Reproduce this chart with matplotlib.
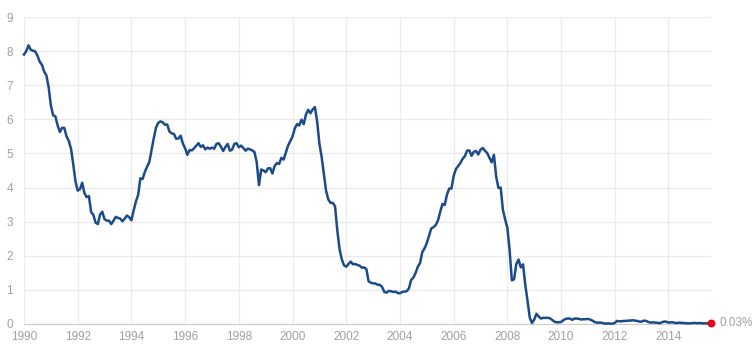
import numpy as np
import matplotlib
matplotlib.use("Agg")
import matplotlib.pyplot as plt

# 3-month treasury yield, monthly, Jan 1990 - Aug 2015
start_year = 1990
rates = [
    # 1990
    7.90, 8.00, 8.17, 8.04, 8.01, 7.99, 7.87, 7.69, 7.60, 7.40, 7.29, 6.95,
    # 1991
    6.41, 6.12, 6.09, 5.83, 5.63, 5.75, 5.75, 5.50, 5.37, 5.14, 4.69, 4.18,
    # 1992
    3.91, 3.95, 4.14, 3.84, 3.72, 3.75, 3.28, 3.20, 2.97, 2.93, 3.21, 3.29,
    # 1993
    3.07, 3.03, 3.03, 2.93, 3.03, 3.14, 3.11, 3.09, 3.01, 3.09, 3.18, 3.13,
    # 1994
    3.04, 3.33, 3.59, 3.78, 4.27, 4.25, 4.46, 4.61, 4.75, 5.10, 5.45, 5.76,
    # 1995
    5.90, 5.94, 5.91, 5.84, 5.85, 5.64, 5.59, 5.57, 5.43, 5.44, 5.52, 5.29,
    # 1996
    5.15, 4.96, 5.10, 5.09, 5.15, 5.23, 5.30, 5.19, 5.24, 5.12, 5.17, 5.14,
    # 1997
    5.17, 5.14, 5.28, 5.30, 5.20, 5.07, 5.19, 5.28, 5.08, 5.11, 5.28, 5.30,
    # 1998
    5.18, 5.23, 5.16, 5.08, 5.14, 5.12, 5.09, 5.04, 4.74, 4.07, 4.53, 4.50,
    # 1999
    4.45, 4.56, 4.57, 4.41, 4.63, 4.72, 4.69, 4.87, 4.82, 5.02, 5.23, 5.36,
    # 2000
    5.50, 5.73, 5.86, 5.82, 5.99, 5.86, 6.14, 6.28, 6.18, 6.29, 6.36, 5.94,
    # 2001
    5.29, 4.90, 4.40, 3.90, 3.65, 3.55, 3.55, 3.45, 2.75, 2.20, 1.90, 1.72,
    # 2002
    1.68, 1.76, 1.83, 1.75, 1.76, 1.73, 1.71, 1.65, 1.66, 1.61, 1.25, 1.21,
    # 2003
    1.19, 1.19, 1.15, 1.15, 1.09, 0.94, 0.92, 0.97, 0.96, 0.94, 0.95, 0.91,
    # 2004
    0.90, 0.94, 0.95, 0.96, 1.04, 1.29, 1.36, 1.50, 1.68, 1.79, 2.11, 2.22,
    # 2005
    2.37, 2.58, 2.80, 2.84, 2.90, 3.04, 3.29, 3.52, 3.49, 3.79, 3.97, 3.97,
    # 2006
    4.34, 4.54, 4.63, 4.72, 4.84, 4.92, 5.08, 5.09, 4.93, 5.05, 5.07, 4.97,
    # 2007
    5.11, 5.16, 5.08, 5.01, 4.87, 4.74, 4.96, 4.32, 3.99, 4.00, 3.35, 3.07,
    # 2008
    2.82, 2.17, 1.28, 1.31, 1.76, 1.89, 1.66, 1.75, 1.15, 0.69, 0.19, 0.03,
    # 2009
    0.13, 0.30, 0.22, 0.16, 0.18, 0.18, 0.18, 0.17, 0.12, 0.07, 0.05, 0.05,
    # 2010
    0.06, 0.11, 0.15, 0.16, 0.16, 0.12, 0.16, 0.16, 0.15, 0.13, 0.14, 0.14,
    # 2011
    0.15, 0.13, 0.10, 0.06, 0.04, 0.04, 0.04, 0.02, 0.01, 0.02, 0.01, 0.01,
    # 2012
    0.03, 0.09, 0.08, 0.08, 0.09, 0.09, 0.10, 0.10, 0.11, 0.10, 0.09, 0.07,
    # 2013
    0.07, 0.10, 0.09, 0.06, 0.04, 0.05, 0.04, 0.04, 0.02, 0.05, 0.07, 0.07,
    # 2014
    0.04, 0.05, 0.05, 0.03, 0.03, 0.04, 0.03, 0.03, 0.02, 0.02, 0.02, 0.03,
    # 2015
    0.03, 0.02, 0.03, 0.02, 0.02, 0.02, 0.03, 0.03,
]
x_ticks = list(range(1990, 2015, 2))
y_ticks = list(range(0, 10))

years = start_year + np.arange(len(rates)) / 12.0
rates = np.array(rates)

plt.rcParams["font.family"] = ["Liberation Sans", "DejaVu Sans"]

fig = plt.figure(figsize=(7.54, 3.54), dpi=100)
ax = fig.add_axes([24 / 754, 30 / 354, 687 / 754, 307 / 354])

ax.plot(years, rates, color="#1b4b8b", linewidth=1.8, solid_joinstyle="round",
        clip_on=False, zorder=3)
ax.scatter([years[-1]], [rates[-1]], s=22, color="#e8001c", zorder=4, clip_on=False)
ax.annotate(f"{rates[-1]:.2f}%", (years[-1], rates[-1]), xytext=(6, 0),
            textcoords="offset points", va="center", ha="left",
            fontsize=8.5, color="#a0a0a0", annotation_clip=False)

ax.set_xlim(years[0], years[-1])
ax.set_ylim(0, 9)
ax.set_xticks(x_ticks)
ax.set_yticks(y_ticks)
ax.grid(True, color="#ebebeb", linewidth=0.9)
ax.set_axisbelow(True)
for side in ["top", "right", "left"]:
    ax.spines[side].set_visible(False)
ax.spines["bottom"].set_color("#cccccc")
ax.tick_params(axis="both", length=0, labelsize=8.5, labelcolor="#a0a0a0")
ax.tick_params(axis="y", pad=8)
ax.tick_params(axis="x", pad=5)

plt.savefig("out.png", dpi=100)
